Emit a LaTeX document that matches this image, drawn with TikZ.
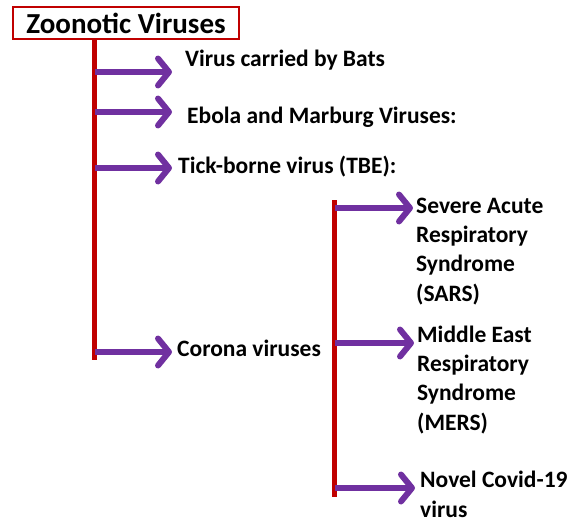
\documentclass[tikz,border=0pt]{standalone}
\usepackage{fontspec}
\setmainfont{Carlito}
\usetikzlibrary{arrows.meta}
\definecolor{spinered}{HTML}{C00000}
\definecolor{branchpurple}{HTML}{7030A0}

\begin{document}
\begin{tikzpicture}[x=1pt, y=-1pt,
  headbox/.style={draw=spinered, line width=2.2pt, minimum width=226pt,
                  minimum height=32pt, inner sep=0pt,
                  font=\fontsize{29}{32}\selectfont\bfseries},
  leaf/.style={anchor=base west, inner sep=0pt, align=left,
               font=\fontsize{23.5}{29.3}\selectfont\bfseries},
  spine/.style={draw=spinered, line width=5pt},
  branch/.style={draw=branchpurple, line width=6pt,
                 -{Straight Barb[length=11pt, width=27pt, round]}},
]
\useasboundingbox (0,0) rectangle (579,523);

\node[headbox] (head) at (126,23) {Zoonotic Viruses\hspace{4pt}};

% first level
\coordinate (spineA) at (94.5,39);
\coordinate (spineAend) at (94.5,360);
\node[leaf] (bats)   at (185,66)  {Virus carried by Bats};
\node[leaf] (ebola)  at (187,123) {Ebola and Marburg Viruses:};
\node[leaf] (tbe)    at (178,173) {Tick-borne virus (TBE):};
\node[leaf] (corona) at (177,356) {Corona viruses};
\coordinate (tipBats)   at (172,72);
\coordinate (tipEbola)  at (172,112);
\coordinate (tipTbe)    at (172,168);
\coordinate (tipCorona) at (172,352);

% second level (base is the last line)
\coordinate (spineB) at (334.5,200);
\coordinate (spineBend) at (334.5,497);
\node[leaf] (sars)  at (416,301) {Severe Acute\\Respiratory\\Syndrome\\(SARS)};
\node[leaf] (mers)  at (417,430) {Middle East\\Respiratory\\Syndrome\\(MERS)};
\node[leaf] (covid) at (420,517) {Novel Covid-19\\virus};
\coordinate (tipSars)  at (413,208);
\coordinate (tipMers)  at (414,343);
\coordinate (tipCovid) at (415,488);

\draw[spine] (spineA) -- (spineAend);
\draw[spine] (spineB) -- (spineBend);

\draw[branch] (spineA |- tipBats) -- (tipBats);
\draw[branch] (spineA |- tipEbola) -- (tipEbola);
\draw[branch] (spineA |- tipTbe) -- (tipTbe);
\draw[branch] (spineA |- tipCorona) -- (tipCorona);
\draw[branch] (spineB |- tipSars) -- (tipSars);
\draw[branch] (spineB |- tipMers) -- (tipMers);
\draw[branch] (spineB |- tipCovid) -- (tipCovid);
\end{tikzpicture}
\end{document}
